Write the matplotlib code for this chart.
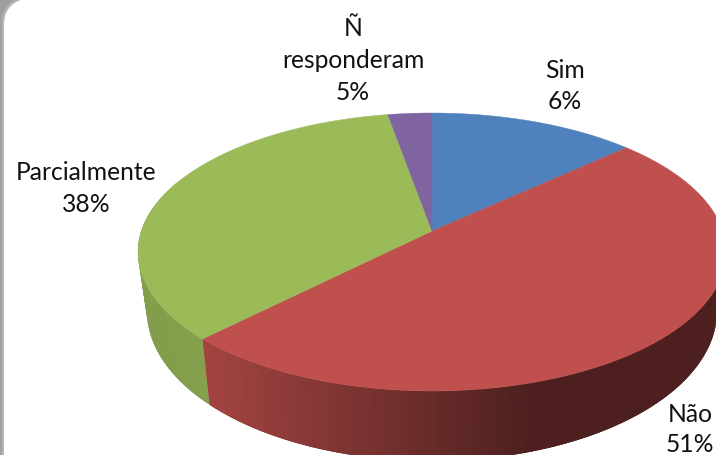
import numpy as np
import matplotlib
matplotlib.use("Agg")
import matplotlib.pyplot as plt
from matplotlib.colors import to_rgb

# Slice names and printed percentages, as labelled in the chart
categories = ["Sim", "Não", "Parcialmente", "Ñ\nresponderam"]
printed_percent = [6, 51, 38, 5]
# Angular share of each slice as read from the drawn rim (the labels do not match the drawing)
drawn_share = [11.5, 52.75, 33.35, 2.4]
colors = ["#4F81BD", "#C0504D", "#9BBB59", "#8064A2"]

W, H = 716, 456
fig = plt.figure(figsize=(W / 100, H / 100), dpi=100)
ax = fig.add_axes([0, 0, 1, 1])
ax.axis("off")

# Frame shadow at the left edge and the rounded top-left corner
yy, xx = np.mgrid[0:H, 0:34] + 0.5
cx, cy, r = 27.0, 23.0, 22.5
d = np.where((xx < cx) & (yy < cy), np.hypot(xx - cx, yy - cy) - r,
             np.where(xx < cx, cx - r - xx, -1.0))
grey = np.where(d > 0, np.clip(0.76 - 0.035 * d, 0.62, 0.76), 1.0)
alpha_edge = np.clip(d + 0.5, 0, 1)
grey = alpha_edge * grey + (1 - alpha_edge)
ax.imshow(np.dstack([grey] * 3), extent=(0, 34, H, 0), aspect="auto",
          interpolation="nearest", zorder=0)
ax.set_xlim(0, W)
ax.set_ylim(H, 0)

# Pie geometry
apex = (432.0, 232.0)
top = dict(cx=432.0, cy=253.0, rx=294.0, ry=139.0)
bot = dict(cx=432.0, cy=312.0, rx=285.0, ry=150.0)


def rim(e, ang):
    """ang: degrees clockwise from the top of the ellipse."""
    a = np.radians(ang)
    return e["cx"] + e["rx"] * np.sin(a), e["cy"] - e["ry"] * np.cos(a)


edges = np.concatenate([[0], np.cumsum(drawn_share)]) / np.sum(drawn_share) * 360.0


def mix(c, f):
    return tuple(np.array(to_rgb(c)) * f)


def side_factor(name_idx, xm):
    if name_idx == 1:  # red side: darkens from left towards the right
        t = np.clip((xm - 208) / (530 - 208), 0, 1)
        return 0.84 + (0.40 - 0.84) * t
    t = np.clip((xm - 140) / 70, 0, 1)  # green side
    return 0.84 + 0.02 * t


# Side wall, built from overlapping quads below each slice's rim
for i in range(len(drawn_share)):
    a0, a1 = edges[i], edges[i + 1]
    lo, hi = max(a0, 90.0), min(a1, 270.0)
    if i == 2:
        hi = 300.0
    if hi <= lo:
        continue
    grid = np.linspace(lo, hi, int((hi - lo) * 1.5) + 2)
    for g0, g1 in zip(grid[:-1], grid[1:]):
        g1 = min(g1 + 1.0, hi)
        x0, y0 = rim(top, g0)
        x1, y1 = rim(top, g1)
        x2, y2 = rim(bot, g1)
        x3, y3 = rim(bot, g0)
        c = mix(colors[i], side_factor(i, (x0 + x1) / 2))
        ax.fill([x0, x1, x2, x3], [y0, y1, y2, y3], color=c, lw=0,
                zorder=2 + 0.1 * (i == 1))

# Top face
for i in range(len(drawn_share)):
    g = np.linspace(edges[i], edges[i + 1], 200)
    x, y = rim(top, g)
    ax.fill(np.r_[apex[0], x], np.r_[apex[1], y], color=colors[i], lw=0.3, zorder=3)

# Labels
font = dict(family="Lato", fontsize=17.7, color="#111111", ha="center", va="center",
            linespacing=1.0, zorder=5)
positions = [(565, [70, 102]), (690, [415, 445]), (86, [173, 205]), (353, [28, 60, 93])]
for name, pct, (x, ys) in zip(categories, printed_percent, positions):
    parts = name.split("\n") + [f"{pct}%"]
    for text, y in zip(parts, ys):
        ax.text(x, y, text, **font)

fig.savefig("out.png", dpi=100)
